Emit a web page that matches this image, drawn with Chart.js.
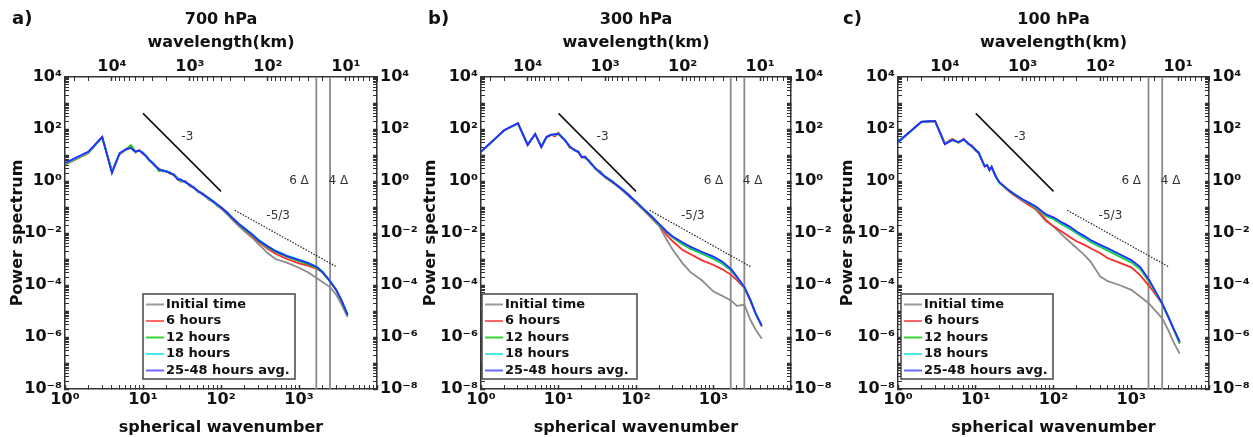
<!DOCTYPE html>
<html>
<head>
<meta charset="utf-8">
<script src="https://cdn.jsdelivr.net/npm/chart.js@4.4.1/dist/chart.umd.min.js"></script>
<style>
  body { margin: 0; background: #fff; width: 1253px; height: 437px; overflow: hidden; position: relative; }
  canvas { position: absolute; top: 0; }
</style>
</head>
<body>
<canvas id="pa" width="418" height="437" style="left:0"></canvas>
<canvas id="pb" width="418" height="437" style="left:418px"></canvas>
<canvas id="pc" width="417" height="437" style="left:836px"></canvas>
<script>
// ---- data ----
const LEGEND = ["Initial time", "6 hours", "12 hours", "18 hours", "25-48 hours avg."];

// 700 hPa
const K_A = [1,2,3,4,5,6,7,8,9,10,11,12,13,14,16,18,20,22,25,28,30,35,40,45,50,60,70,80,90,100,120,140,170,200,250,300,400,500,700,1000,1300,1700,2000,2500,3000,3500,4200];
const A_INIT = [4.5,13,49,2.1,11.3,16,19,13,15,11.5,9,6.4,5.3,4.1,2.8,2.5,2.3,2.0,1.7,1.15,1.1,0.88,0.68,0.52,0.41,0.28,0.2,0.15,0.11,0.088,0.052,0.032,0.018,0.0115,6.6e-3,3.8e-3,1.65e-3,1.0e-3,7.2e-4,4.6e-4,3.1e-4,1.8e-4,1.3e-4,8.3e-5,4.2e-5,1.8e-5,5.8e-6];
const A_6H = [4.2,12,47,2.4,10.5,15.5,20,12.5,15.5,11,9.5,6.0,5.4,3.8,3.0,2.3,2.5,1.9,1.75,1.3,0.95,1.0,0.62,0.58,0.39,0.32,0.19,0.17,0.11,0.092,0.063,0.035,0.021,0.0135,7.8e-3,4.7e-3,2.4e-3,1.6e-3,1.0e-3,6.8e-4,5.6e-4,4.2e-4,3.0e-4,1.4e-4,6.4e-5,2.5e-5,6.9e-6];
const A_12H = [4.4,12.5,48,2.3,11,16.5,24,14,14,12.5,8.5,6.8,4.9,4.4,2.4,2.7,2.2,2.2,1.6,1.25,1.0,0.95,0.66,0.57,0.40,0.31,0.20,0.16,0.115,0.095,0.058,0.037,0.021,0.014,8.4e-3,5.0e-3,2.8e-3,1.85e-3,1.2e-3,8.2e-4,6.3e-4,4.4e-4,3.0e-4,1.35e-4,6.3e-5,2.5e-5,6.9e-6];
const A_18H = [4.7,13,49,2.2,11.5,16,19,13,15,12,9.2,6.3,5.5,4.0,2.9,2.4,2.4,2.0,1.8,1.2,1.1,0.92,0.69,0.56,0.42,0.30,0.21,0.165,0.12,0.10,0.062,0.039,0.023,0.0155,9.2e-3,5.6e-3,3.1e-3,2.1e-3,1.35e-3,9.5e-4,7.2e-4,5.0e-4,3.3e-4,1.45e-4,6.6e-5,2.6e-5,7.0e-6];
const A_AVG = [4.9,13.5,50,2.0,11.7,16.6,18.6,13.5,14.8,11.7,8.9,6.5,5.2,4.2,2.8,2.5,2.3,2.1,1.7,1.12,1.17,0.89,0.71,0.54,0.43,0.29,0.22,0.16,0.126,0.098,0.060,0.038,0.022,0.015,8.9e-3,5.4e-3,3.0e-3,2.0e-3,1.3e-3,9.1e-4,6.9e-4,4.8e-4,3.2e-4,1.4e-4,6.5e-5,2.6e-5,7.1e-6];

// 300 hPa
const K_B = [1,2,3,4,5,6,7,8,9,10,11,12,14,16,18,20,22,25,30,35,40,50,60,70,80,100,130,160,200,250,300,400,500,700,1000,1300,1700,2000,2500,3000,3500,4200];
const B_INIT = [13.4,90,165,24,64,20,49,58,62,64,50,38,21,15,13,8,8.5,5.3,3.0,1.9,1.4,0.88,0.56,0.38,0.26,0.14,0.068,0.036,0.018,5.4e-3,2.2e-3,6.8e-4,3.2e-4,1.55e-4,5.6e-5,3.8e-5,2.5e-5,1.58e-5,1.74e-5,4.5e-6,1.9e-6,8.5e-7];
const B_6H = [13,88,162,26,62,22,46,60,52,72,47,39,19,16.5,12.5,8.9,7.6,6.0,2.8,2.3,1.35,0.88,0.63,0.39,0.31,0.15,0.07,0.039,0.020,8.3e-3,4.7e-3,2.2e-3,1.55e-3,9.1e-4,5.9e-4,4.0e-4,2.4e-4,1.55e-4,7.8e-5,2.4e-5,7.5e-6,2.5e-6];
const B_12H = [13.2,89,164,25,63,21,47,62,58,68,49,40,20,16,12.8,8.6,8.0,5.9,2.9,2.2,1.4,0.9,0.62,0.40,0.30,0.155,0.072,0.041,0.020,0.0105,6.5e-3,3.6e-3,2.5e-3,1.6e-3,1.0e-3,6.6e-4,3.5e-4,1.9e-4,8.0e-5,2.5e-5,7.8e-6,2.6e-6];
const B_18H = [13.3,90,165,25,64,21,48,60,61,66,52,37,22,15,13.8,8.3,8.4,5.7,3.0,2.1,1.45,0.95,0.58,0.43,0.28,0.165,0.074,0.044,0.021,0.011,7.0e-3,4.1e-3,2.85e-3,1.8e-3,1.15e-3,7.4e-4,3.8e-4,2.0e-4,8.3e-5,2.6e-5,8.0e-6,2.7e-6];
const B_AVG = [13.5,91,166,24,65,20,50,59,63,65,50,38,21,15.5,13.4,8.1,8.7,5.5,3.1,2.0,1.5,0.93,0.6,0.42,0.29,0.16,0.076,0.043,0.022,0.0112,7.2e-3,4.3e-3,3.0e-3,1.9e-3,1.23e-3,7.9e-4,4.0e-4,2.1e-4,8.5e-5,2.6e-5,8.1e-6,2.75e-6];

// 100 hPa
const K_C = [1,2,3,4,5,6,7,8,9,10,11,12,13,14,15,16,18,20,25,30,40,50,60,80,100,130,160,200,250,300,400,500,700,1000,1300,1700,2000,2500,3000,3500,4200];
const C_INIT = [32,189,203,26,37,31,40,28,21,15.4,11.4,6.4,3.6,4.0,2.6,3.5,1.45,0.9,0.5,0.32,0.18,0.12,0.075,0.028,0.018,8.3e-3,4.7e-3,2.6e-3,1.4e-3,7.9e-4,2.1e-4,1.4e-4,1.0e-4,6.5e-5,3.6e-5,1.9e-5,1.1e-5,5.2e-6,1.8e-6,6.3e-7,2.3e-7];
const C_6H = [30,184,198,28,42,30,42,26,23,14.5,12.5,6.0,4.0,3.7,3.0,3.1,1.65,0.86,0.47,0.31,0.17,0.11,0.085,0.032,0.018,0.011,7.2e-3,4.7e-3,3.5e-3,2.6e-3,1.66e-3,1.07e-3,7.2e-4,4.8e-4,2.4e-4,9.1e-5,4.8e-5,1.9e-5,5.9e-6,2.0e-6,5.8e-7];
const C_12H = [31,186,200,27,39,30,41,27,22,15,12,6.2,3.9,3.9,2.9,3.3,1.6,0.88,0.49,0.33,0.185,0.125,0.092,0.045,0.034,0.021,0.015,9.5e-3,6.4e-3,4.5e-3,2.9e-3,2.1e-3,1.25e-3,7.4e-4,4.1e-4,1.3e-4,5.8e-5,1.85e-5,5.8e-6,2.0e-6,5.5e-7];
const C_18H = [31,188,202,27,37,32,39,29,20,16,11,6.8,3.8,4.0,2.8,3.4,1.55,0.9,0.5,0.35,0.19,0.135,0.098,0.050,0.038,0.0235,0.017,0.0105,7.1e-3,5.0e-3,3.25e-3,2.4e-3,1.45e-3,8.5e-4,4.7e-4,1.5e-4,6.3e-5,1.92e-5,6.0e-6,2.1e-6,6.5e-7];
const C_AVG = [32,190,204,26,38,31,40,28,21,15.6,11.6,6.4,3.6,4.1,2.6,3.6,1.5,0.93,0.52,0.34,0.20,0.138,0.102,0.052,0.040,0.025,0.018,0.0112,7.6e-3,5.4e-3,3.5e-3,2.6e-3,1.55e-3,9.1e-4,5.0e-4,1.55e-4,6.5e-5,1.95e-5,6.0e-6,2.1e-6,6.6e-7];

// reference slopes and grid-length markers (same in every panel)
const SLOPE3_K = [10, 100];
const SLOPE3_P = [400, 0.4];
const SLOPE53_K = [150, 3000];
const SLOPE53_P = [0.075, 5.1e-4];
const DELTA_K = [1667, 2500];          // 6Δ and 4Δ
const NOTE_TEXT = ["-3", "-5/3", "6 Δ", "4 Δ"];
const NOTE_K = [37, 540, 1000, 3200];
const NOTE_P = [49, 0.045, 1, 1];

const COLORS = ["#8c8c8c", "#ff2a2a", "#1cc81c", "#00e0e0", "#2a2aff"];
const KEY_COLORS = ["#9a9a9a", "#ff6666", "#33d633", "#44e8e8", "#6a6aff"];

Chart.defaults.font.family = '"DejaVu Sans", sans-serif';
Chart.defaults.color = "#111";

const SUP = { "-": "\u207B", "0": "\u2070", "1": "\u00B9", "2": "\u00B2", "3": "\u00B3", "4": "\u2074",
  "5": "\u2075", "6": "\u2076", "7": "\u2077", "8": "\u2078", "9": "\u2079" };

function isDecade(v) {
  const e = Math.round(Math.log10(v));
  return Math.abs(v - Math.pow(10, e)) < 1e-9 * v;
}
function powLabel(v, keep) {
  if (!isDecade(v)) return "";
  const e = Math.round(Math.log10(v));
  if (!keep(e)) return "";
  return "10" + String(e).split("").map(c => SUP[c]).join("");
}
function logTicks(lo, hi) {
  const out = [];
  for (let e = -9; e <= 5; e++) {
    for (let m = 1; m <= 9; m++) {
      const v = Number(m + "e" + e);
      if (v >= lo * 0.999999 && v <= hi * 1.000001) out.push({ value: v });
    }
  }
  return out;
}

function logAxis(position, min, max, size, keep, padding, extra) {
  const horiz = position === "top" || position === "bottom";
  return Object.assign({
    type: "logarithmic",
    position: position,
    min: min,
    max: max,
    afterBuildTicks: s => { s.ticks = logTicks(min, max); },
    afterFit: s => { if (horiz) s.height = size; else s.width = size; },
    grid: {
      drawOnChartArea: false, drawTicks: true, tickLength: -4, tickColor: "#333",
      tickWidth: c => (c.tick && isDecade(c.tick.value) ? 1.5 : 1)
    },
    border: { display: true, color: "#333", width: 1.5 },
    ticks: {
      autoSkip: false, maxRotation: 0, minRotation: 0, padding: padding, color: "#111",
      font: { size: 16, weight: "bold" },
      callback: v => powLabel(v, keep)
    }
  }, extra);
}

// text bits: slope labels, Δ labels, panel letter and the boxed legend
const marks = {
  id: "marks",
  afterDraw(chart, args, o) {
    const ctx = chart.ctx, x = chart.scales.x, y = chart.scales.y, a = chart.chartArea;
    ctx.save();
    ctx.font = '12px "DejaVu Sans"';
    ctx.fillStyle = "#333";
    ctx.textAlign = "center";
    ctx.textBaseline = "middle";
    NOTE_TEXT.forEach((t, i) => ctx.fillText(t, x.getPixelForValue(NOTE_K[i]), y.getPixelForValue(NOTE_P[i])));

    ctx.font = 'bold 18px "DejaVu Sans"';
    ctx.fillStyle = "#111";
    ctx.textAlign = "left";
    ctx.fillText(o.letter, o.letterX, 19);

    const bx = a.left + o.dx, by = a.top + 217, bw = o.w, bh = 85;
    ctx.fillStyle = "#fff";
    ctx.fillRect(bx, by, bw, bh);
    ctx.strokeStyle = "#444";
    ctx.lineWidth = 1.5;
    ctx.strokeRect(bx, by, bw, bh);
    ctx.font = 'bold 13px "DejaVu Sans"';
    LEGEND.forEach((lab, i) => {
      const yy = by + 10.5 + i * 16.5;
      ctx.strokeStyle = KEY_COLORS[i];
      ctx.lineWidth = 2;
      ctx.beginPath();
      ctx.moveTo(bx + 3, yy);
      ctx.lineTo(bx + 21, yy);
      ctx.stroke();
      ctx.fillStyle = "#111";
      ctx.fillText(lab, bx + 23, yy);
    });
    ctx.restore();
  }
};

function pts(k, p) { return k.map((v, i) => ({ x: v, y: p[i] })); }

function makePanel(id, p) {
  const series = p.series.map((vals, i) => ({
    label: LEGEND[i],
    data: pts(p.k, vals),
    borderColor: COLORS[i],
    borderWidth: 1.8,
    pointRadius: 0,
    tension: 0,
    order: 5 - i
  }));
  const extras = [
    { label: "", data: pts(SLOPE3_K, SLOPE3_P), borderColor: "#111", borderWidth: 1.6, pointRadius: 0, order: 0 },
    { label: "", data: pts(SLOPE53_K, SLOPE53_P), borderColor: "#222", borderWidth: 1.2, borderDash: [1.5, 1.5], pointRadius: 0, order: 0 }
  ];
  DELTA_K.forEach(k => extras.push({
    label: "", data: [{ x: k, y: 1e-8 }, { x: k, y: 1e4 }],
    borderColor: "#8a8a8a", borderWidth: 1.8, pointRadius: 0, order: 10
  }));

  new Chart(document.getElementById(id), {
    type: "line",
    data: { datasets: series.concat(extras) },
    options: {
      responsive: false,
      animation: false,
      devicePixelRatio: 1,
      layout: { padding: 0 },
      plugins: { legend: { display: false }, tooltip: { enabled: false }, marks: p.marks },
      scales: {
        x: logAxis("bottom", 1, 1e4, 48, e => e >= 0 && e <= 3, 5, {
          title: { display: true, text: "spherical wavenumber", font: { size: 16, weight: "bold" }, padding: { top: 0, bottom: 0 } }
        }),
        x2: logAxis("top", 4, 40000, 77, e => e >= 1 && e <= 4, 5, {
          reverse: true,
          title: { display: true, text: [p.level, "wavelength(km)"], font: { size: 16, weight: "bold", lineHeight: 1.4 }, padding: { top: 9, bottom: 0 } }
        }),
        y: logAxis("left", 1e-8, 1e4, p.yW, e => e % 2 === 0, 7, {
          title: { display: true, text: "Power spectrum", font: { size: 16, weight: "bold" }, padding: { top: p.titlePad, bottom: 0 } }
        }),
        y2: logAxis("right", 1e-8, 1e4, p.y2W, e => e % 2 === 0, 7, {})
      }
    },
    plugins: [marks]
  });
}

makePanel("pa", { level: "700 hPa", k: K_A, series: [A_INIT, A_6H, A_12H, A_18H, A_AVG], yW: 65, y2W: 41, titlePad: 8,
  marks: { letter: "a)", letterX: 12, dx: 78, w: 152 } });
makePanel("pb", { level: "300 hPa", k: K_B, series: [B_INIT, B_6H, B_12H, B_18H, B_AVG], yW: 63, y2W: 45, titlePad: 3,
  marks: { letter: "b)", letterX: 10, dx: 1, w: 155 } });
makePanel("pc", { level: "100 hPa", k: K_C, series: [C_INIT, C_6H, C_12H, C_18H, C_AVG], yW: 62, y2W: 44, titlePad: 2,
  marks: { letter: "c)", letterX: 7, dx: 3, w: 152 } });
</script>
</body>
</html>
